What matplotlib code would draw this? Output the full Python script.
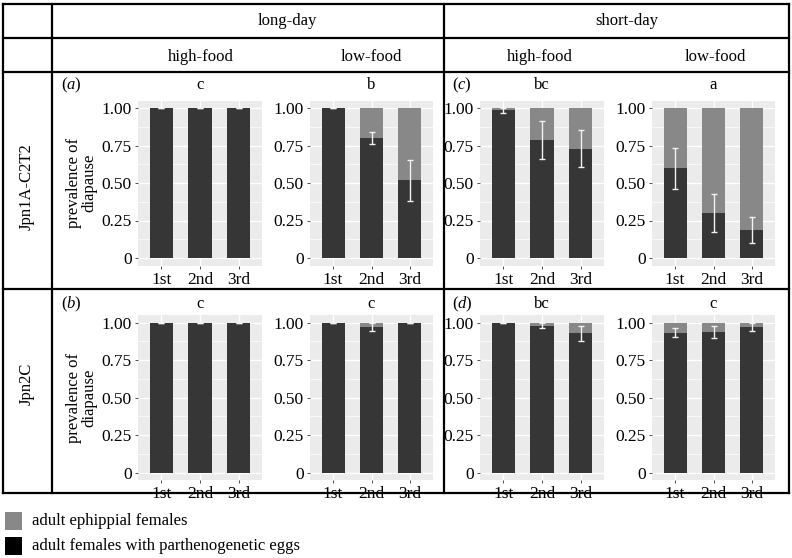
import numpy as np
import matplotlib
matplotlib.use("Agg")
import matplotlib.pyplot as plt
from matplotlib.patches import Rectangle

plt.rcParams['font.family'] = ['Liberation Serif', 'DejaVu Serif']
plt.rcParams['mathtext.fontset'] = 'custom'
plt.rcParams['mathtext.rm'] = 'Liberation Serif'
plt.rcParams['mathtext.it'] = 'Liberation Serif:italic'

# ---------------- data ----------------
generations = ["1st", "2nd", "3rd"]
photoperiods = ["long-day", "short-day"]
food_levels = ["high-food", "low-food"]
strains = ["Jpn1A-C2T2", "Jpn2C"]
letters_top = ["c", "b", "bc", "a"]
letters_bottom = ["c", "c", "bc", "c"]
yticks = [0, 0.25, 0.5, 0.75, 1.0]
ytick_labels = ["0", "0.25", "0.50", "0.75", "1.00"]

# proportion of adult females with parthenogenetic eggs (dark part)
parth_a_high = [1.00, 1.00, 1.00]
parth_a_low = [1.00, 0.80, 0.518]
parth_c_high = [0.989, 0.789, 0.729]
parth_c_low = [0.60, 0.302, 0.184]
parth_b_high = [1.00, 1.00, 1.00]
parth_b_low = [1.00, 0.969, 1.00]
parth_d_high = [1.00, 0.98, 0.929]
parth_d_low = [0.933, 0.938, 0.971]

# error bar limits
lo_a_high = [1.00, 1.00, 1.00]
hi_a_high = [1.00, 1.00, 1.00]
lo_a_low = [1.00, 0.762, 0.38]
hi_a_low = [1.00, 0.842, 0.656]
lo_c_high = [0.969, 0.662, 0.607]
hi_c_high = [1.00, 0.913, 0.856]
lo_c_low = [0.462, 0.173, 0.098]
hi_c_low = [0.736, 0.429, 0.273]
lo_b_high = [1.00, 1.00, 1.00]
hi_b_high = [1.00, 1.00, 1.00]
lo_b_low = [1.00, 0.944, 1.00]
hi_b_low = [1.00, 1.00, 1.00]
lo_d_high = [1.00, 0.962, 0.88]
hi_d_high = [1.00, 1.00, 0.98]
lo_d_low = [0.902, 0.896, 0.944]
hi_d_low = [0.967, 0.98, 1.00]

legend_labels = ["adult ephippial females", "adult females with parthenogenetic eggs"]

# ---------------- style ----------------
DARK = "#363636"
LIGHT = "#888888"
PANEL_BG = "#EBEBEB"
W, H = 792, 558
FS = 12

fig = plt.figure(figsize=(W / 100, H / 100), dpi=100)

# overlay for table lines and text (pixel coordinates, y down)
ov = fig.add_axes([0, 0, 1, 1], zorder=0)
ov.set_xlim(0, W)
ov.set_ylim(H, 0)
ov.axis("off")

lw = 1.6
for y in [4, 38, 72, 289, 493]:
    ov.plot([3, 789], [y, y], color="black", lw=lw, solid_capstyle="projecting")
for x in [3, 52, 444, 789]:
    ov.plot([x, x], [4, 493], color="black", lw=lw, solid_capstyle="projecting")

ov.text(287, 21, photoperiods[0], ha="center", va="center", fontsize=FS)
ov.text(627, 21, photoperiods[1], ha="center", va="center", fontsize=FS)
for xc, lab in zip([201, 371, 540, 715], food_levels * 2):
    ov.text(xc, 57, lab, ha="center", va="center", fontsize=FS)
ov.text(27, 187, strains[0], ha="center", va="center", rotation=90, fontsize=FS)
ov.text(27, 384, strains[1], ha="center", va="center", rotation=90, fontsize=FS)

# legend
ov.add_patch(Rectangle((5, 512), 17, 18, facecolor=LIGHT, edgecolor="none"))
ov.add_patch(Rectangle((5, 537), 17, 18, facecolor="black", edgecolor="none"))
ov.text(32, 521, legend_labels[0], ha="left", va="center", fontsize=FS)
ov.text(32, 546, legend_labels[1], ha="left", va="center", fontsize=FS)

# panels
x_ranges = [(138, 262), (310, 433), (480, 604), (652, 775)]
y_ranges = [(100.5, 265.5), (315.2, 480.2)]

row_data = [
    [(parth_a_high, lo_a_high, hi_a_high), (parth_a_low, lo_a_low, hi_a_low),
     (parth_c_high, lo_c_high, hi_c_high), (parth_c_low, lo_c_low, hi_c_low)],
    [(parth_b_high, lo_b_high, hi_b_high), (parth_b_low, lo_b_low, hi_b_low),
     (parth_d_high, lo_d_high, hi_d_high), (parth_d_low, lo_d_low, hi_d_low)],
]
row_letters = [letters_top, letters_bottom]
letter_y = [85, 304]
tags = [("a", "c"), ("b", "d")]

xpos = np.arange(1, len(generations) + 1)
for r in range(2):
    y0, y1 = y_ranges[r]
    for c in range(4):
        x0, x1 = x_ranges[c]
        ax = fig.add_axes([x0 / W, 1 - y1 / H, (x1 - x0) / W, (y1 - y0) / H], zorder=2)
        ax.set_facecolor(PANEL_BG)
        for s in ax.spines.values():
            s.set_visible(False)
        ax.set_xlim(0.4, 3.6)
        ax.set_ylim(-0.05, 1.05)
        for yv in yticks:
            ax.axhline(yv, color="white", lw=1.0, zorder=0)
        for yv in [0.125, 0.375, 0.625, 0.875]:
            ax.axhline(yv, color="white", lw=0.5, zorder=0)
        for xv in xpos:
            ax.axvline(xv, color="white", lw=1.0, zorder=0)
        parth, lo, hi = row_data[r][c]
        parth = np.array(parth)
        ephip = 1 - parth
        ax.bar(xpos, parth, width=0.6, color=DARK, zorder=2)
        ax.bar(xpos, ephip, width=0.6, bottom=parth, color=LIGHT, zorder=2)
        lo = np.array(lo)
        hi = np.array(hi)
        yerr = [np.clip(parth - lo, 0, None), np.clip(hi - parth, 0, None)]
        ax.errorbar(xpos, parth, yerr=yerr, fmt="none", ecolor="#F2F2F2",
                    elinewidth=1.0, capsize=2.2, capthick=1.0, zorder=3)
        ax.set_xticks(xpos)
        ax.set_xticklabels(generations, fontsize=12.5)
        ax.set_yticks(yticks)
        ax.set_yticklabels(ytick_labels, fontsize=12.5)
        ax.tick_params(axis="both", length=2.5, width=0.6, color="#333333", pad=2)
        if c == 0:
            ax.set_ylabel("prevalence of\ndiapause", fontsize=FS, linespacing=0.95, labelpad=3)
        xc = (x0 + x1) / 2
        ov.text(xc, letter_y[r], row_letters[r][c], ha="center", va="center", fontsize=FS)
    ov.text(61, letter_y[r], "($\\it{%s}$)" % tags[r][0], ha="left", va="center", fontsize=FS)
    ov.text(452, letter_y[r], "($\\it{%s}$)" % tags[r][1], ha="left", va="center", fontsize=FS)

fig.savefig("out.png", dpi=100)
